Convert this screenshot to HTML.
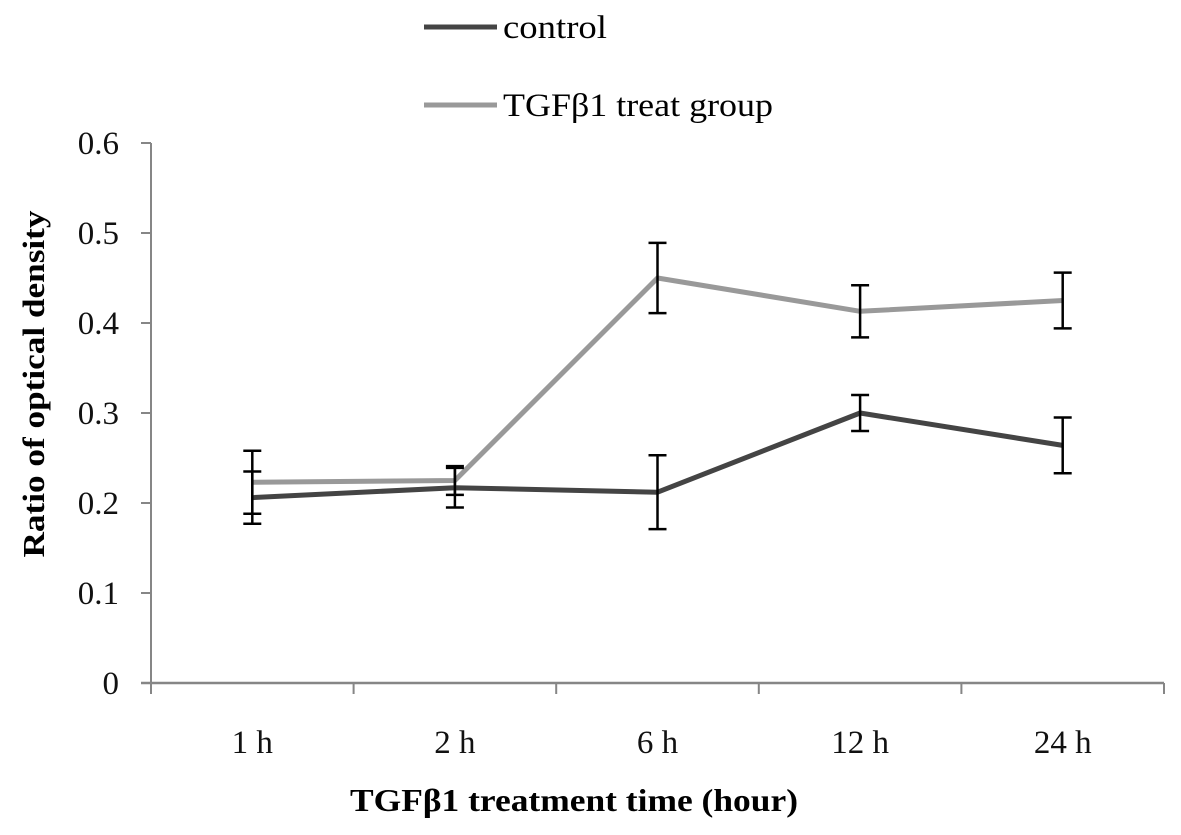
<!DOCTYPE html>
<html><head><meta charset="utf-8"><style>
html,body{margin:0;padding:0;background:#fff;}
svg{display:block;font-family:"Liberation Serif",serif;}
</style></head><body>
<svg id="chart" width="1181" height="835" viewBox="0 0 1181 835">
<g id="axes"></g>
<g id="series"></g>
<g>
<line x1="424" y1="27" x2="497" y2="27" stroke="#444" stroke-width="5"/>
<text x="503" y="38" font-size="33" textLength="104" lengthAdjust="spacingAndGlyphs">control</text>
<line x1="424" y1="105" x2="497" y2="105" stroke="#999" stroke-width="5"/>
<text x="503" y="116" font-size="33" textLength="270" lengthAdjust="spacingAndGlyphs">TGFβ1 treat group</text>
</g>
<text x="350" y="811" font-size="32" font-weight="bold" textLength="448" lengthAdjust="spacingAndGlyphs">TGFβ1 treatment time (hour)</text>
<text transform="translate(44,384) rotate(-90)" font-size="31" font-weight="bold" text-anchor="middle" textLength="347" lengthAdjust="spacingAndGlyphs">Ratio of optical density</text>
</svg>
<script>
const categories = ["1 h","2 h","6 h","12 h","24 h"];
const controlValues = [0.206, 0.217, 0.212, 0.300, 0.264];
const controlErrors = [0.029, 0.022, 0.041, 0.020, 0.031];
const treatValues = [0.223, 0.225, 0.450, 0.413, 0.425];
const treatErrors = [0.035, 0.016, 0.039, 0.029, 0.031];
const yTicks = [0, 0.1, 0.2, 0.3, 0.4, 0.5, 0.6];
const yTickLabels = ["0","0.1","0.2","0.3","0.4","0.5","0.6"];

const NS = "http://www.w3.org/2000/svg";
const X0 = 151, X1 = 1164, Y0 = 683, Y1 = 143, YMAX = 0.6;
const band = (X1 - X0) / categories.length;
function xPos(i){ return X0 + band * (i + 0.5); }
function yPos(v){ return Y0 - (v / YMAX) * (Y0 - Y1); }
function mk(tag, attrs, parent){
  const el = document.createElementNS(NS, tag);
  for (const k in attrs) el.setAttribute(k, attrs[k]);
  parent.appendChild(el);
  return el;
}
const axes = document.getElementById("axes");
const series = document.getElementById("series");
const axisColor = "#868686";

let el = mk("line", {x1:X0, y1:Y1, x2:X0, y2:Y0, stroke:axisColor, "stroke-width":2}, axes);


el = mk("line", {x1:X0-10, y1:Y0, x2:X1, y2:Y0, stroke:axisColor, "stroke-width":2.5}, axes);



yTicks.forEach((t, i) => {
  const y = yPos(t);
  const tk = mk("line", {x1:X0-10, y1:y, x2:X0, y2:y, stroke:axisColor, "stroke-width":2}, axes);
  
  
  const lb = mk("text", {x:119, y:y+11, "font-size":33, "text-anchor":"end", fill:"#111"}, axes);
  lb.textContent = yTickLabels[i];
  
  
});
for (let i = 0; i <= categories.length; i++) {
  const x = X0 + band * i;
  const tk = mk("line", {x1:x, y1:Y0, x2:x, y2:Y0+11, stroke:axisColor, "stroke-width":2}, axes);
  
  
}
categories.forEach((c, i) => {
  const lb = mk("text", {x:xPos(i), y:753, "font-size":33, "text-anchor":"middle", fill:"#111"}, axes);
  lb.textContent = c;
  
  
});

function drawSeries(vals, errs, color, name){
  const pts = vals.map((v, i) => xPos(i) + "," + yPos(v)).join(" ");
  const pl = mk("polyline", {points:pts, fill:"none", stroke:color, "stroke-width":5, "stroke-linejoin":"round"}, series);
  
  
  vals.forEach((v, i) => {
    const x = xPos(i), yt = yPos(v + errs[i]), yb = yPos(v - errs[i]);
    const g = mk("g", {stroke:"#000", "stroke-width":2.5}, series);
    
    
    mk("line", {x1:x, y1:yt, x2:x, y2:yb}, g);
    mk("line", {x1:x-9, y1:yt, x2:x+9, y2:yt}, g);
    mk("line", {x1:x-9, y1:yb, x2:x+9, y2:yb}, g);
  });
}
drawSeries(treatValues, treatErrors, "#999999", "treat");
drawSeries(controlValues, controlErrors, "#444444", "control");
</script>
</body></html>
